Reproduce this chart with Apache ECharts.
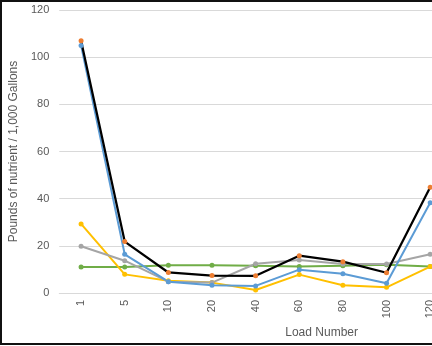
<!DOCTYPE html>
<html>
<head>
<meta charset="utf-8">
<script src="https://cdn.jsdelivr.net/npm/echarts@6/dist/echarts.min.js"></script>
<style>
  html, body { margin: 0; padding: 0; background: #fff; }
  #wrap { position: relative; width: 432px; height: 346px; overflow: hidden; background: #fff; }
  /* the chart is wider than the visible window; its right side is clipped */
  #chart { position: absolute; left: 0; top: 0; width: 460px; height: 346px; }
  #frame { position: absolute; left: 0; top: 0; width: 432px; height: 345px;
           border-top: 2px solid #111; border-left: 2px solid #111; border-bottom: 2px solid #111;
           box-sizing: border-box; pointer-events: none; }
</style>
</head>
<body>
<div id="wrap">
  <div id="chart"></div>
  <div id="frame"></div>
</div>
<script>
// Load numbers along the x axis
const loads = ['1', '5', '10', '20', '40', '60', '80', '100', '120'];

// Pounds of nutrient per 1,000 gallons, one array per nutrient series
const seriesOrange = [107, 21.8, 8.7, 7.4, 7.3, 15.8, 13.3, 8.6, 44.8];
const seriesBlue   = [105, 16.4, 4.8, 3.3, 3.0, 9.9, 8.2, 4.1, 38.3];
const seriesGray   = [19.8, 13.7, 4.8, 4.4, 12.4, 14.0, 12.3, 12.3, 16.4];
const seriesYellow = [29.3, 7.9, 5.2, 4.4, 1.3, 7.8, 3.3, 2.4, 11.2];
const seriesGreen  = [11.0, 11.0, 11.8, 11.8, 11.6, 11.2, 11.6, 12.0, 11.2];

const FONT = 'Liberation Sans';
const TEXT = '#595959';

function line(name, data, lineColor, markerColor, width) {
  return {
    name: name,
    type: 'line',
    data: data,
    symbol: 'circle',
    symbolSize: 5,
    lineStyle: { color: lineColor, width: width },
    itemStyle: { color: markerColor },
    emphasis: { disabled: true },
    animation: false
  };
}

const chart = echarts.init(document.getElementById('chart'), null, { renderer: 'canvas' });
chart.setOption({
  backgroundColor: '#fff',
  animation: false,
  grid: { left: 54, right: 8, top: 10, bottom: 53, containLabel: false },
  xAxis: {
    type: 'category',
    data: loads,
    boundaryGap: true,
    name: 'Load Number',
    nameLocation: 'middle',
    nameGap: 22,
    nameTextStyle: { color: TEXT, fontFamily: FONT, fontSize: 12, padding: [0, 0, 0, 132] },
    axisLine: { lineStyle: { color: '#D9D9D9', width: 1 } },
    axisTick: { show: false },
    axisLabel: { rotate: 90, color: TEXT, fontFamily: FONT, fontSize: 11, margin: 7 }
  },
  yAxis: {
    type: 'value',
    min: 0,
    max: 120,
    interval: 20,
    name: 'Pounds of nutrient / 1,000 Gallons',
    nameLocation: 'middle',
    nameGap: 32,
    nameTextStyle: { color: TEXT, fontFamily: FONT, fontSize: 12 },
    axisLine: { show: false },
    axisTick: { show: false },
    axisLabel: { color: TEXT, fontFamily: FONT, fontSize: 11, margin: 10 },
    splitLine: { lineStyle: { color: '#D9D9D9', width: 1 } }
  },
  series: [
    line('Green', seriesGreen, '#70AD47', '#70AD47', 2),
    line('Yellow', seriesYellow, '#FFC000', '#FFC000', 2),
    line('Gray', seriesGray, '#A5A5A5', '#A5A5A5', 2),
    line('Blue', seriesBlue, '#5B9BD5', '#5B9BD5', 2),
    line('Orange', seriesOrange, '#000000', '#ED7D31', 2.25)
  ]
});
</script>
</body>
</html>
